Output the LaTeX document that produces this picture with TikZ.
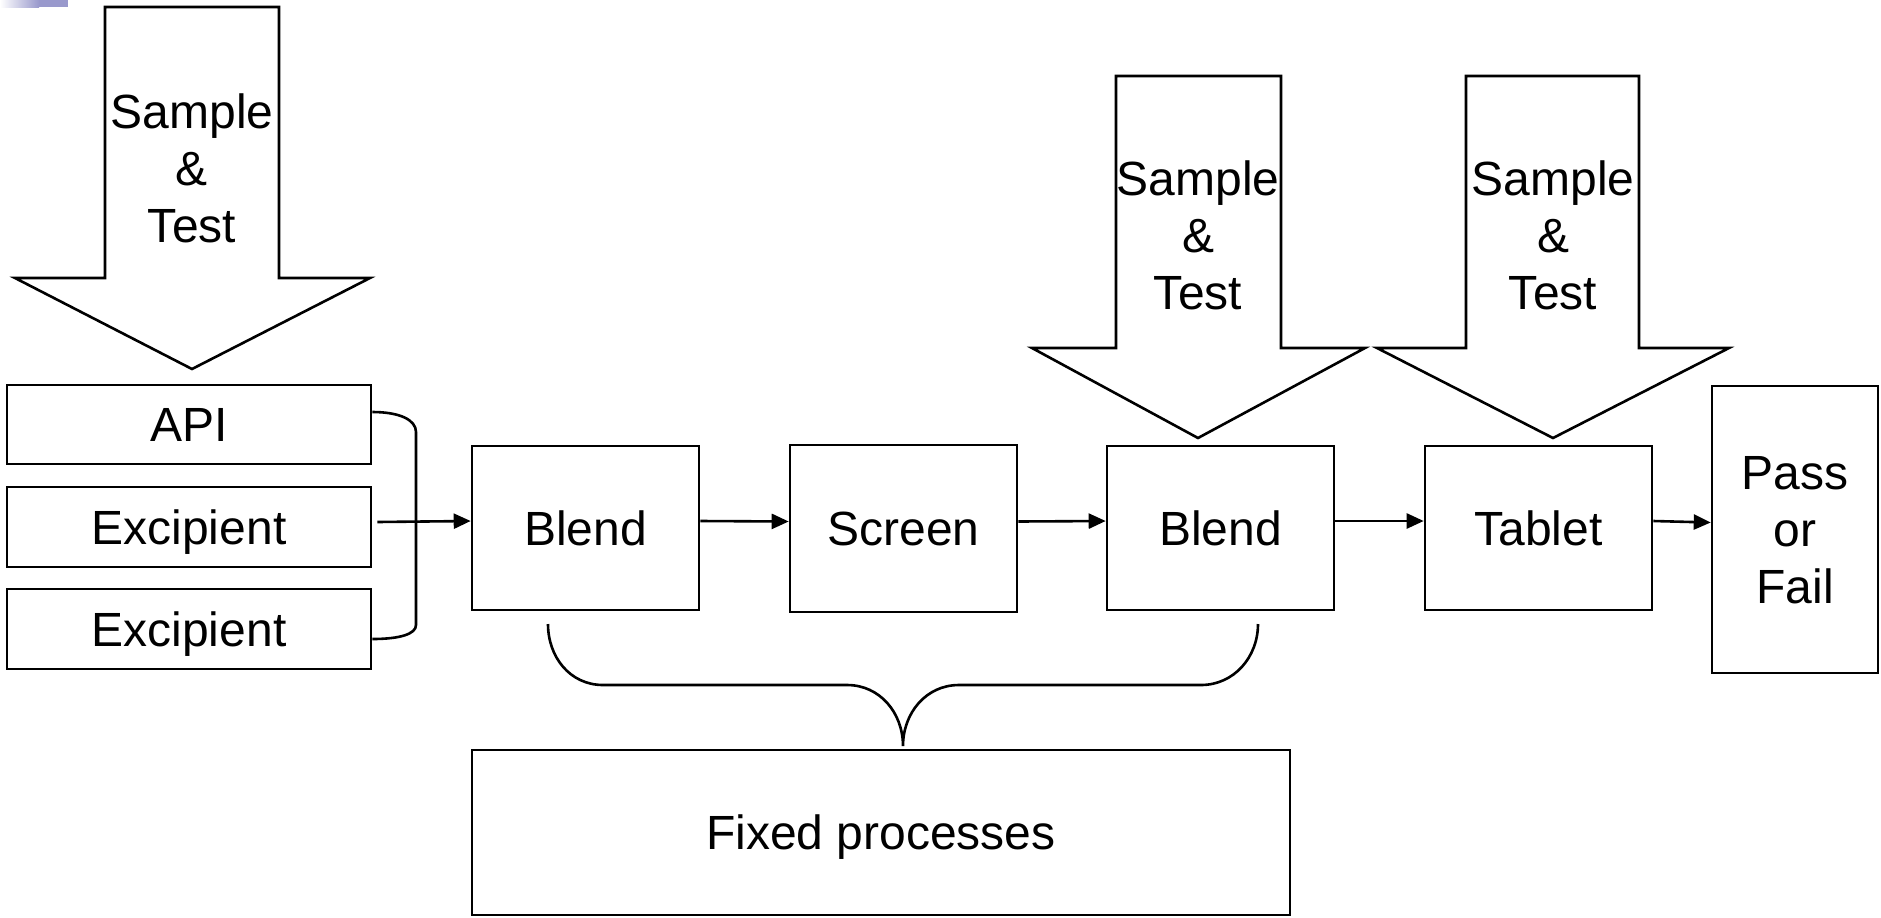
\documentclass[tikz,border=0pt]{standalone}
\usepackage{fontspec}
\setmainfont{Liberation Sans}
\usetikzlibrary{arrows.meta}
\definecolor{lav}{RGB}{153,153,204}
\tikzset{
  box/.style={draw, line width=1.3pt, inner sep=0pt, align=center, text depth=0pt, font=\fontsize{24pt}{28.5pt}\selectfont},
  lbl/.style={inner sep=0pt, align=center, font=\fontsize{24pt}{28.5pt}\selectfont},
  blockarrow/.style={draw, line width=1.3pt, line join=miter, fill=white},
  flow/.style={line width=1.3pt, -{Triangle[length=8.5pt,width=7.5pt]}},
  curly/.style={line width=1.3pt},
}
\begin{document}
\begin{tikzpicture}[x=0.5pt,y=-0.5pt]
\useasboundingbox (0,0) rectangle (1881,917);
% top-left decoration
\shade[left color=white, right color=lav] (0,0) rectangle (39,7);
\fill[lav] (39,0) rectangle (68,7);

% block arrows
\draw[blockarrow] (105,7) -- (279,7) -- (279,278) -- (370,278) -- (192,369) -- (15,278) -- (105,278) -- cycle;
\node[lbl] (st1) at (192,168) {Sample\\\&\\Test};
\draw[blockarrow] (1116,76) -- (1281,76) -- (1281,348) -- (1365,348) -- (1198,438) -- (1032,348) -- (1116,348) -- cycle;
\node[lbl] (st2) at (1198,235) {Sample\\\&\\Test};
\draw[blockarrow] (1466,76) -- (1639,76) -- (1639,348) -- (1729,348) -- (1553,438) -- (1377,348) -- (1466,348) -- cycle;
\node[lbl] (st3) at (1553,235) {Sample\\\&\\Test};

% input boxes
\node[box, minimum width=182pt, minimum height=39.5pt] (api) at (189,424.5) {API};
\node[box, minimum width=182pt, minimum height=40pt] (exc1) at (189,527) {Excipient};
\node[box, minimum width=182pt, minimum height=40pt] (exc2) at (189,629) {Excipient};

% process boxes
\node[box, minimum width=113.5pt, minimum height=82pt] (blend1) at (585.5,528) {Blend};
\node[box, minimum width=113.5pt, minimum height=83.5pt] (screen) at (903.5,528.5) {Screen};
\node[box, minimum width=113.5pt, minimum height=82pt] (blend2) at (1220.5,528) {Blend};
\node[box, minimum width=113.5pt, minimum height=82pt] (tablet) at (1538.5,528) {Tablet};
\node[box, minimum width=83pt, minimum height=143.5pt] (pass) at (1795,529.5) {Pass\\or\\Fail};
\node[box, minimum width=409pt, minimum height=82.5pt] (fixed) at (881,832.5) {Fixed processes};

% bracket joining inputs
\draw[curly] ([yshift=6.25pt]api.east) .. controls (400,412) and (416,420) .. (416,432)
  -- (416,625) .. controls (416,634) and (400,639) .. ([yshift=-5pt]exc2.east);

% flow arrows
\draw[flow] ([xshift=2.5pt,yshift=2.5pt]exc1.east) -- ([yshift=3.5pt]blend1.west);
\draw[flow] ([yshift=3.5pt]blend1.east) -- ([yshift=3.5pt]screen.west);
\draw[flow] ([yshift=3.5pt]screen.east) -- ([yshift=3.5pt]blend2.west);
\draw[flow] ([yshift=3.5pt]blend2.east) -- ([yshift=3.5pt]tablet.west);
\draw[flow] ([yshift=3.5pt]tablet.east) -- ([yshift=3.5pt]pass.west);

% brace
\coordinate (bl) at (548,624);
\coordinate (br) at (1258,624);
\coordinate (bt) at (903,746);
\draw[curly] (bl) .. controls (548,657) and (570,685) .. (603,685) -- (847,685)
  .. controls (880,685) and (903,713) .. (bt)
  .. controls (903,713) and (926,685) .. (959,685) -- (1201,685)
  .. controls (1234,685) and (1258,657) .. (br);
\end{tikzpicture}
\end{document}
